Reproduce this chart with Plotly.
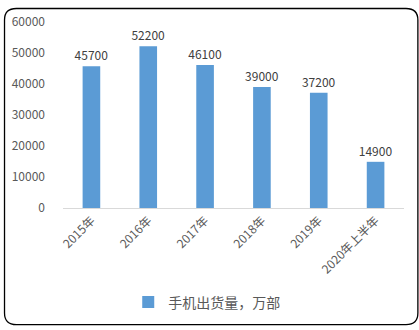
import plotly.graph_objects as go

categories = ["2015年", "2016年", "2017年", "2018年", "2019年", "2020年上半年"]
values = [45700, 52200, 46100, 39000, 37200, 14900]
series_name = "手机出货量，万部"
y_ticks = [0, 10000, 20000, 30000, 40000, 50000, 60000]

W, H = 419, 330
L, R, T, B = 60, 15, 15, 122
pw, ph = W - L - R, H - T - B

def px(x):
    return (x - L) / pw

def py(y):
    return (H - B - y) / ph

fig = go.Figure()
fig.add_trace(go.Bar(
    x=categories, y=values, name=series_name,
    marker=dict(color="#5B9BD5", line=dict(width=0)),
    width=0.31,
    text=[str(v) for v in values], textposition="outside",
    constraintext="none",
    textfont=dict(family="Noto Sans CJK SC, sans-serif", size=12, color="#404040"),
    cliponaxis=False,
    showlegend=True,
))

# rounded border
x0, x1, y0, y1, r = 1, W - 1, 1, H - 1, 12
path = (f"M {px(x0 + r)},{py(y0)} L {px(x1 - r)},{py(y0)} "
        f"Q {px(x1)},{py(y0)} {px(x1)},{py(y0 + r)} "
        f"L {px(x1)},{py(y1 - r)} Q {px(x1)},{py(y1)} {px(x1 - r)},{py(y1)} "
        f"L {px(x0 + r)},{py(y1)} Q {px(x0)},{py(y1)} {px(x0)},{py(y1 - r)} "
        f"L {px(x0)},{py(y0 + r)} Q {px(x0)},{py(y0)} {px(x0 + r)},{py(y0)} Z")

fig.update_layout(
    width=W, height=H,
    margin=dict(l=L, r=R, t=T, b=B, pad=0),
    paper_bgcolor="white", plot_bgcolor="white",
    font=dict(family="Noto Sans CJK SC, sans-serif", color="#595959"),
    bargap=0.69,
    xaxis=dict(
        type="category", tickangle=-45, showgrid=False,
        showline=True, linecolor="#D9D9D9", linewidth=1,
        ticks="", tickfont=dict(size=12, color="#595959"),
        zeroline=False,
    ),
    yaxis=dict(
        range=[0, 60000], tickvals=y_ticks, ticktext=[str(v) for v in y_ticks],
        showgrid=False, zeroline=False, showline=False, ticks="",
        tickfont=dict(size=12, color="#595959"), ticklabelstandoff=17,
    ),
    legend=dict(
        orientation="h", x=px(205), xanchor="center", y=py(306), yanchor="middle",
        font=dict(size=14, color="#595959"), itemwidth=30,
    ),
    shapes=[dict(type="path", xref="paper", yref="paper", path=path,
                 line=dict(color="#000000", width=1.3), layer="above")],
)

fig.write_html("out.html")
